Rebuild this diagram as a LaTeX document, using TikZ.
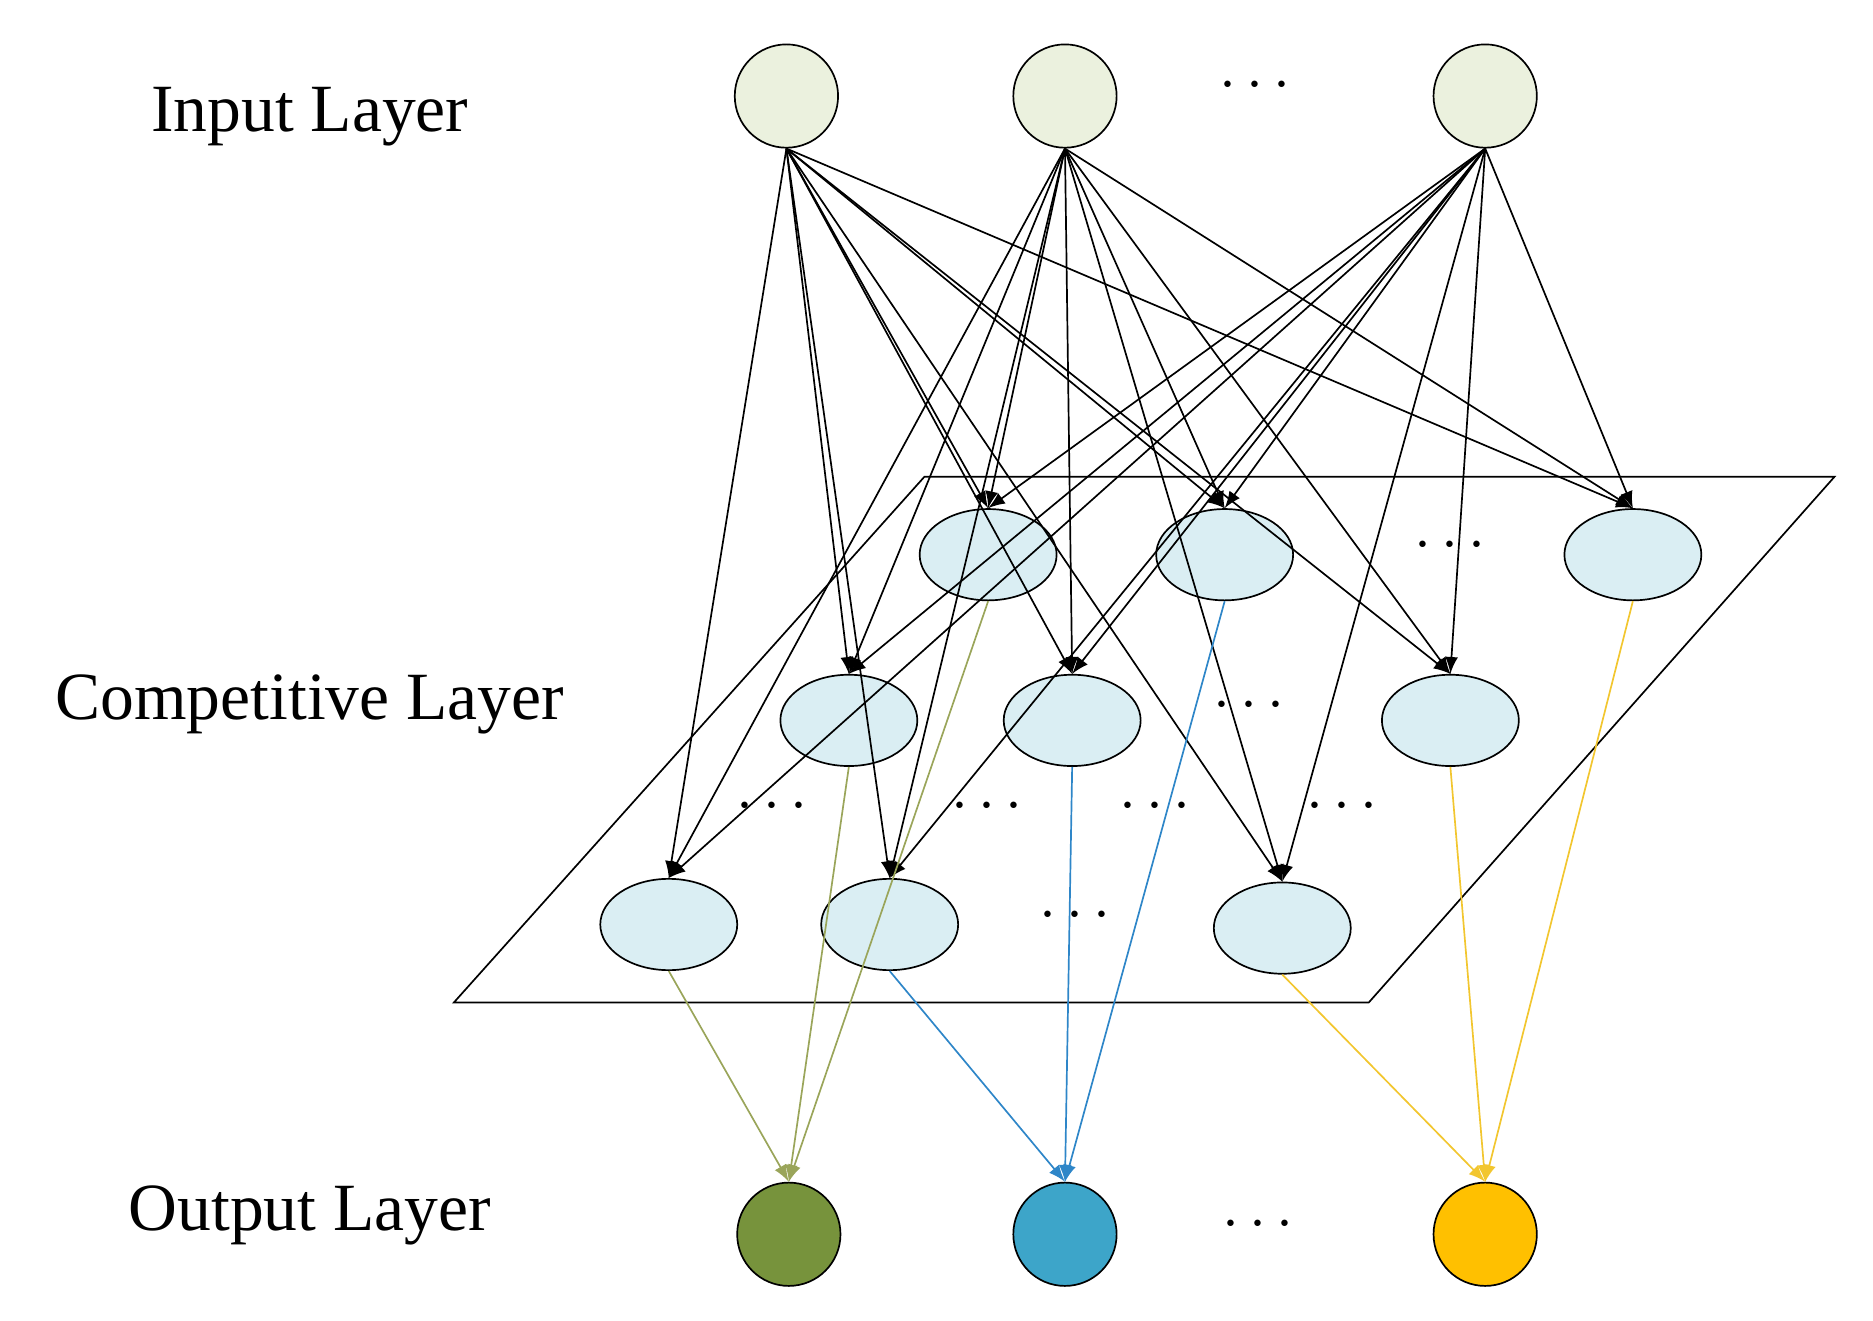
\documentclass[tikz,border=0pt]{standalone}
\usepackage{fontspec}
\setmainfont{Liberation Serif}
\usetikzlibrary{arrows,shapes.geometric}
\definecolor{inFill}{HTML}{EBF1DE}
\definecolor{compFill}{HTML}{DAEEF3}
\definecolor{olive}{HTML}{9AA55A}
\definecolor{greenOut}{HTML}{77933C}
\definecolor{blueLine}{HTML}{2E86C8}
\definecolor{blueOut}{HTML}{3DA5C9}
\definecolor{yellowLine}{HTML}{F2C62F}
\definecolor{yellowOut}{HTML}{FFC000}
\begin{document}
\begin{tikzpicture}[x=0.01cm,y=-0.01cm]
	\tikzstyle{in_style} = [circle,draw=black,fill=inFill,minimum size=0.86cm,inner sep=0pt]
	\tikzstyle{comp_style} = [ellipse,draw=black,fill=compFill,minimum width=1.14cm,minimum height=0.76cm,inner sep=0pt]
	\tikzstyle{out_style} = [circle,draw=black,minimum size=0.86cm,inner sep=0pt]
	\tikzstyle{edge_style} = [draw=black,-latex,thin]
	\tikzstyle{label_style} = [font=\fontsize{16}{19}\selectfont]
	\tikzstyle{dots_style} = [font=\Large]
	\useasboundingbox (0,0) rectangle (1560,1100);
	% layer labels
	\node[label_style] (lin) at (258,97) {Input Layer};
	\node[label_style] (lcomp) at (258,587) {Competitive Layer};
	\node[label_style] (lout) at (258,1012) {Output Layer};
	% plane
	\draw[black] (378,835) -- (1140,835) -- (1528,397) -- (770,397) -- cycle;
	% input layer
	\node[in_style] (i1) at (655,80) {};
	\node[in_style] (i2) at (887,80) {};
	\node[in_style] (i3) at (1237,80) {};
	\node[dots_style] (d1) at (1045,72) {$\cdots$};
	% competitive layer
	\node[comp_style] (c11) at (823,462) {};
	\node[comp_style] (c12) at (1020,462) {};
	\node[comp_style] (c13) at (1360,462) {};
	\node[comp_style] (c21) at (707,600) {};
	\node[comp_style] (c22) at (893,600) {};
	\node[comp_style] (c23) at (1208,600) {};
	\node[comp_style] (c31) at (557,770) {};
	\node[comp_style] (c32) at (741,770) {};
	\node[comp_style] (c33) at (1068,773) {};
	\node[dots_style] (d2) at (1208,455) {$\cdots$};
	\node[dots_style] (d3) at (1040,588) {$\cdots$};
	\node[dots_style] (d4) at (895,763) {$\cdots$};
	\node[dots_style] (d5) at (643,672) {$\cdots$};
	\node[dots_style] (d6) at (822,672) {$\cdots$};
	\node[dots_style] (d7) at (962,672) {$\cdots$};
	\node[dots_style] (d8) at (1118,672) {$\cdots$};
	% output layer
	\node[out_style,fill=greenOut] (o1) at (657,1028) {};
	\node[out_style,fill=blueOut] (o2) at (887,1028) {};
	\node[out_style,fill=yellowOut] (o3) at (1237,1028) {};
	\node[dots_style] (d9) at (1048,1020) {$\cdots$};
	% input to competitive
	\foreach \i in {i1,i2,i3}
		\foreach \c in {c11,c12,c13,c21,c22,c23,c31,c32,c33}
			\draw[edge_style] (\i.south) -- (\c.north);
	% competitive to output
	\foreach \c in {c11,c21,c31}
		\draw[-latex,olive] (\c.south) -- (o1.north);
	\foreach \c in {c12,c22,c32}
		\draw[-latex,blueLine] (\c.south) -- (o2.north);
	\foreach \c in {c13,c23,c33}
		\draw[-latex,yellowLine] (\c.south) -- (o3.north);
\end{tikzpicture}
\end{document}
